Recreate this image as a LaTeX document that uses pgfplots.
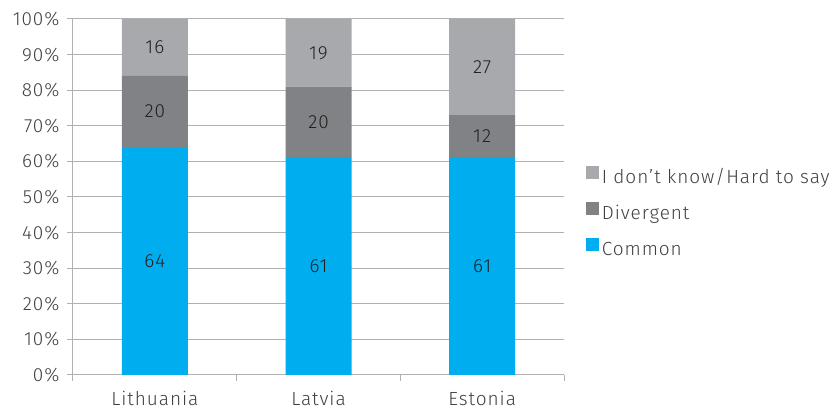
\documentclass[border=0pt]{standalone}
\usepackage{pgfplots}
\pgfplotsset{compat=1.18}
\usepackage{fontspec}
\setmainfont{Fira Sans}[UprightFont=* Light, LetterSpace=5]
\definecolor{ccommon}{HTML}{00AEEF}
\definecolor{cdiv}{HTML}{808285}
\definecolor{cdk}{HTML}{A7A9AC}
\definecolor{cgrid}{HTML}{B1B1B3}
\definecolor{ctext}{HTML}{3F3F40}
\definecolor{clab}{HTML}{231F20}
\begin{document}
\begin{tikzpicture}
\begin{axis}[
  at={(0,0)}, anchor=south west,
  scale only axis, width=491pt, height=356pt,
  ybar stacked, bar width=66pt,
  xmin=-0.5, xmax=2.5, ymin=0, ymax=100,
  axis lines=left, axis line style={-, draw=cgrid, line width=1pt},
  xtick={0,1,2}, xticklabels={Lithuania,Latvia,Estonia},
  minor xtick={-0.5,0.5,1.5,2.5},
  major x tick style={draw=none},
  minor x tick style={draw=cgrid, line width=1pt},
  minor tick length=6pt,
  ytick={0,10,...,100},
  yticklabel={\pgfmathprintnumber{\tick}\%},
  /pgf/number format/assume math mode=true,
  major tick length=6pt, tick align=outside,
  y tick style={draw=cgrid, line width=1pt},
  ymajorgrids, grid style={draw=cgrid, line width=1pt},
  tick label style={font=\fontsize{19}{22}\selectfont, text=ctext},
  yticklabel style={xshift=-4pt},
  xticklabel style={inner sep=0pt, text depth=0pt, yshift=-10pt},
  visualization depends on=rawy \as \rawy,
  nodes near coords={\pgfmathprintnumber{\rawy}},
  every node near coord/.append style={anchor=center, font=\fontsize{19}{22}\selectfont, text=clab},
  legend style={at={(axis description cs:1.044,0.587)}, anchor=north west, draw=none, fill=none, font=\fontsize{19}{22}\selectfont, text=ctext, row sep=15pt, inner sep=0pt, nodes={inner sep=0pt, text height=14pt, text depth=4pt}},
  legend cell align=left,
  reverse legend,
  legend image code/.code={\fill[#1] (0pt,-1pt) rectangle (13pt,12pt); \path (16pt,0pt);},
]
\addplot[fill=ccommon, draw=none] coordinates {(0,64) (1,61) (2,61)};
\addplot[fill=cdiv, draw=none] coordinates {(0,20) (1,20) (2,12)};
\addplot[fill=cdk, draw=none] coordinates {(0,16) (1,19) (2,27)};
\legend{Common,Divergent,I don’t know/Hard to say}
\end{axis}
\pgfresetboundingbox
\path[use as bounding box] (-73pt,-34pt) rectangle (759pt,375pt);
\end{tikzpicture}
\end{document}
